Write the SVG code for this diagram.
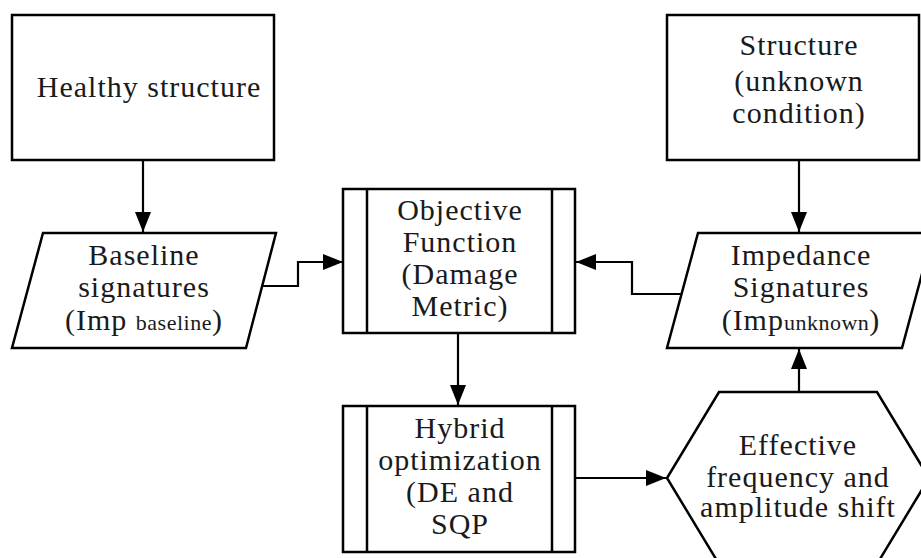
<svg xmlns="http://www.w3.org/2000/svg" width="921" height="558" viewBox="0 0 921 558">
<style>
.s{fill:#fff;stroke:#000;stroke-width:2.5}
.l{fill:none;stroke:#000;stroke-width:2.2}
text{font-family:"Liberation Serif","Times New Roman",serif;font-size:30px;letter-spacing:1px;fill:#1a1a1a;text-anchor:middle}
.sub{font-size:22px;letter-spacing:0.5px}
</style>
<defs>
<marker id="ah" viewBox="0 0 20 16" refX="20" refY="8" markerWidth="20" markerHeight="16" orient="auto" markerUnits="userSpaceOnUse">
<path d="M0,0 L20,8 L0,16 Z" fill="#000"/>
</marker>
</defs>
<rect width="921" height="558" fill="#fff"/>
<g id="connectors">
<path class="l" d="M143,160 V232" marker-end="url(#ah)"/>
<path class="l" d="M799,160 V232" marker-end="url(#ah)"/>
<path class="l" d="M248,286 H298 V262 H343" marker-end="url(#ah)"/>
<path class="l" d="M693,294 H632 V262 H576" marker-end="url(#ah)"/>
<path class="l" d="M458,333 V405" marker-end="url(#ah)"/>
<path class="l" d="M575,478 H666" marker-end="url(#ah)"/>
<path class="l" d="M799,392 V349" marker-end="url(#ah)"/>
</g>
<g id="healthy">
<rect class="s" x="12" y="15" width="262" height="145"/>
<text x="149" y="97">Healthy structure</text>
</g>
<g id="structure">
<rect class="s" x="667" y="15" width="252" height="145"/>
<text x="799" y="55">Structure</text>
<text x="799" y="91">(unknown</text>
<text x="799" y="123">condition)</text>
</g>
<g id="baseline">
<polygon class="s" points="43,233 276,233 246,348 12,348"/>
<text x="144" y="265">Baseline</text>
<text x="144" y="297">signatures</text>
<text x="144" y="330">(Imp <tspan class="sub">baseline</tspan>)</text>
</g>
<g id="impedance">
<polygon class="s" points="698,233 933,233 902,348 667,348"/>
<text x="801" y="265">Impedance</text>
<text x="801" y="297">Signatures</text>
<text x="801" y="330">(Imp<tspan class="sub">unknown</tspan>)</text>
</g>
<g id="objective">
<rect class="s" x="343" y="189" width="232" height="144"/>
<line class="s" x1="367" y1="189" x2="367" y2="333"/>
<line class="s" x1="552" y1="189" x2="552" y2="333"/>
<text x="460" y="220">Objective</text>
<text x="460" y="252">Function</text>
<text x="460" y="284">(Damage</text>
<text x="460" y="316">Metric)</text>
</g>
<g id="hybrid">
<rect class="s" x="343" y="406" width="232" height="146"/>
<line class="s" x1="367" y1="406" x2="367" y2="552"/>
<line class="s" x1="552" y1="406" x2="552" y2="552"/>
<text x="460" y="438">Hybrid</text>
<text x="460" y="470">optimization</text>
<text x="460" y="502">(DE and</text>
<text x="460" y="534">SQP</text>
</g>
<g id="effective">
<polygon class="s" points="719,392 877,392 929,478 877,564 719,564 667,478"/>
<text x="798" y="455">Effective</text>
<text x="798" y="487">frequency and</text>
<text x="798" y="517">amplitude shift</text>
</g>
</svg>
